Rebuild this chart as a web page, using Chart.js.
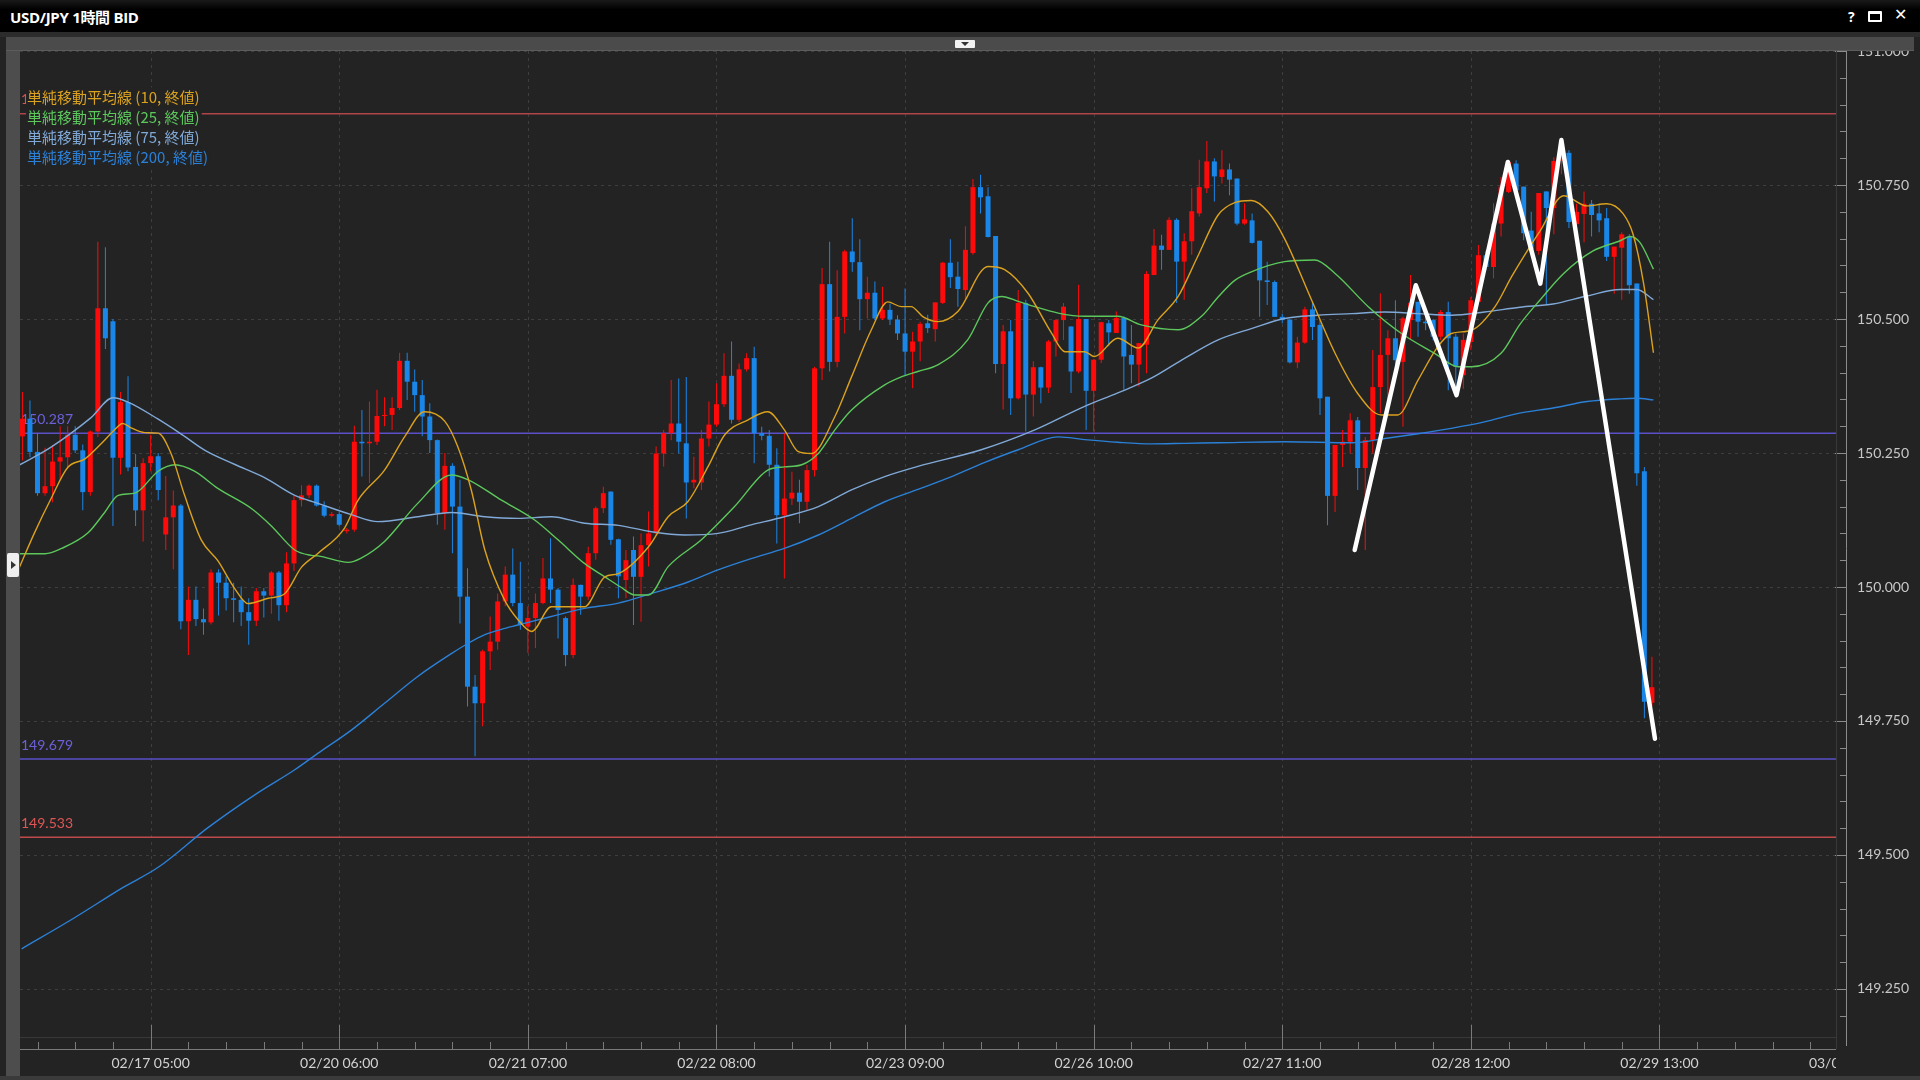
<!DOCTYPE html>
<html><head><meta charset="utf-8">
<script src="https://cdn.jsdelivr.net/npm/chart.js@4.4.1/dist/chart.umd.min.js"></script>
<style>
body{margin:0;background:#1b1b1b;}
#wrap{position:relative;width:1920px;height:1080px;overflow:hidden;background:#232323;}
#c{position:absolute;left:0;top:0;}
#title{position:absolute;left:0;top:0;width:1920px;height:32px;background:linear-gradient(#1a1a1a,#000 30%,#000);}
#title .t{position:absolute;left:10px;top:6px;color:#fff;font:bold 15px "Open Sans","Noto Sans CJK JP",sans-serif;letter-spacing:-0.3px;}
#title .q{position:absolute;left:1848px;top:7px;color:#fff;font:bold 14px "Open Sans",sans-serif;}
#title .mx{position:absolute;left:1868px;top:11px;width:10px;height:6px;border:2px solid #fff;border-top-width:3px;border-radius:1px;}
#title .x{position:absolute;left:1894px;top:5px;color:#fff;font:bold 16px "DejaVu Sans",sans-serif;}
#strip{position:absolute;left:0;top:32px;width:1920px;height:5px;background:#2c2c2c;}
#tool{position:absolute;left:6px;top:37px;width:1908px;height:13px;background:#4b4b4b;border-bottom:1px solid #5c5c5c;}
#drop{position:absolute;left:949px;top:3px;width:20px;height:8px;background:#f2f2f2;border-radius:1px;}
#drop:after{content:"";position:absolute;left:6px;top:2px;border-left:4px solid transparent;border-right:4px solid transparent;border-top:4px solid #333;}
#lbar{position:absolute;left:6px;top:51px;width:14px;height:1025px;background:#4d4d4d;}
#arrow{position:absolute;left:7px;top:553px;width:12px;height:24px;background:#f0f0f0;border-radius:2px;}
#arrow:after{content:"";position:absolute;left:4px;top:8px;border-top:4px solid transparent;border-bottom:4px solid transparent;border-left:5px solid #333;}
#bframe{position:absolute;left:0;top:1076px;width:1920px;height:4px;background:#3a3a3a;}
</style></head>
<body><div id="wrap">
<canvas id="c" width="1920" height="1080"></canvas>
<div id="title"><span class="t">USD/JPY 1時間 BID</span><span class="q">?</span><span class="mx"></span><span class="x">✕</span></div>
<div id="strip"></div>
<div id="tool"><div id="drop"></div></div>
<div id="lbar"></div><div id="arrow"></div>
<div id="bframe"></div>
</div>
<script>
// ---- hourly candles (index 0 = 02/16 12:00) ----
const open = [
150.281,150.314,150.252,150.175,150.188,150.234,150.242,150.284,150.255,150.177,
150.290,150.520,150.496,150.241,150.345,150.224,150.143,150.231,150.244,150.098,
150.130,150.152,149.936,149.976,149.940,149.934,150.027,150.008,149.979,149.976,
149.953,149.937,149.992,149.984,150.027,149.966,150.044,150.162,150.171,150.189,
150.152,150.133,150.136,150.104,150.107,150.271,150.268,150.271,150.319,150.321,
150.334,150.422,150.383,150.358,150.318,150.274,150.138,150.226,150.150,149.982,
149.814,149.783,149.880,149.898,149.973,150.023,149.970,149.926,149.942,149.970,
150.016,149.995,149.942,149.873,150.004,149.982,150.063,150.147,150.178,150.089,
150.013,150.069,150.019,150.078,150.100,150.249,150.287,150.305,150.268,150.195,
150.195,150.277,150.303,150.341,150.394,150.312,150.406,150.427,150.287,150.282,
150.228,150.134,150.165,150.176,150.159,150.218,150.408,150.565,150.420,150.504,
150.626,150.606,150.537,150.549,150.501,150.517,150.499,150.473,150.439,150.458,
150.492,150.481,150.530,150.605,150.579,150.554,150.623,150.746,150.729,150.655,
150.416,150.477,150.352,150.530,150.359,150.410,150.372,150.458,150.498,150.486,
150.402,150.500,150.366,150.424,150.492,150.474,150.502,150.433,150.415,150.452,
150.582,150.637,150.629,150.685,150.607,150.645,150.697,150.744,150.794,150.765,
150.779,150.762,150.678,150.684,150.646,150.572,150.569,150.504,150.499,150.419,
150.456,150.518,150.489,150.355,150.170,150.265,150.271,150.311,150.222,150.274,
150.373,150.433,150.464,150.420,150.498,150.532,150.495,150.498,150.467,150.513,
150.467,150.395,150.457,150.532,150.619,150.597,150.678,150.737,150.790,150.747,
150.665,150.627,150.738,150.707,150.795,150.810,150.677,150.696,150.715,150.697,
150.688,150.616,150.633,150.654,150.566,150.216,149.784];
const high = [
150.364,150.348,150.287,150.260,150.265,150.300,150.300,150.300,150.266,150.292,
150.644,150.634,150.500,150.364,150.393,150.248,150.240,150.284,150.250,150.207,
150.180,150.155,150.001,150.001,149.960,150.033,150.033,150.020,150.008,150.001,
149.979,149.998,149.998,150.030,150.030,150.065,150.170,150.190,150.191,150.191,
150.160,150.140,150.140,150.110,150.301,150.330,150.346,150.368,150.354,150.354,
150.437,150.437,150.406,150.386,150.343,150.275,150.250,150.231,150.200,150.035,
149.836,149.883,149.945,149.988,150.038,150.072,150.047,149.964,149.988,150.054,
150.091,149.998,149.945,150.016,150.004,150.075,150.150,150.187,150.178,150.090,
150.069,150.094,150.100,150.141,150.262,150.293,150.386,150.389,150.392,150.243,
150.293,150.346,150.380,150.436,150.458,150.417,150.436,150.448,150.299,150.293,
150.259,150.287,150.215,150.200,150.228,150.411,150.595,150.644,150.591,150.629,
150.688,150.649,150.579,150.570,150.560,150.529,150.507,150.557,150.476,150.495,
150.508,150.531,150.607,150.649,150.607,150.673,150.761,150.769,150.746,150.655,
150.489,150.498,150.554,150.536,150.421,150.411,150.461,150.500,150.530,150.486,
150.564,150.500,150.425,150.495,150.498,150.514,150.505,150.489,150.455,150.589,
150.668,150.657,150.690,150.688,150.660,150.744,150.797,150.832,150.800,150.815,
150.790,150.762,150.716,150.697,150.646,150.607,150.572,150.510,150.499,150.467,
150.523,150.532,150.498,150.355,150.265,150.293,150.324,150.317,150.280,150.442,
150.548,150.479,150.535,150.504,150.582,150.532,150.504,150.500,150.517,150.532,
150.473,150.473,150.541,150.638,150.628,150.716,150.765,150.796,150.796,150.747,
150.700,150.735,150.738,150.802,150.830,150.815,150.715,150.738,150.722,150.715,
150.707,150.635,150.662,150.658,150.566,150.224,149.870];
const low = [
150.236,150.242,150.170,150.170,150.158,150.200,150.220,150.250,150.143,150.170,
150.280,150.444,150.114,150.210,150.216,150.114,150.085,150.216,150.162,150.069,
150.033,149.921,149.873,149.927,149.911,149.930,149.947,149.956,149.934,149.927,
149.892,149.927,149.943,149.950,149.937,149.953,150.030,150.150,150.166,150.150,
150.130,150.130,150.113,150.100,150.103,150.206,150.194,150.265,150.300,150.293,
150.330,150.349,150.327,150.281,150.250,150.116,150.107,150.063,149.932,149.777,
149.684,149.740,149.845,149.883,149.964,149.964,149.920,149.877,149.886,149.968,
149.970,149.904,149.852,149.867,149.948,149.976,150.051,150.138,150.079,149.979,
149.979,149.929,149.935,150.038,150.095,150.225,150.274,150.249,150.128,150.184,
150.181,150.262,150.299,150.336,150.305,150.308,150.402,150.231,150.274,150.206,
150.081,150.016,150.153,150.119,150.144,150.206,150.386,150.402,150.410,150.473,
150.588,150.479,150.501,150.498,150.498,150.489,150.461,150.395,150.371,150.421,
150.474,150.458,150.528,150.558,150.523,150.536,150.620,150.697,150.652,150.399,
150.331,150.321,150.350,150.290,150.318,150.343,150.362,150.430,150.461,150.362,
150.399,150.293,150.290,150.418,150.449,150.474,150.368,150.380,150.374,150.399,
150.582,150.592,150.629,150.530,150.536,150.620,150.691,150.735,150.719,150.753,
150.731,150.675,150.676,150.641,150.504,150.526,150.504,150.492,150.417,150.408,
150.454,150.461,150.321,150.115,150.140,150.224,150.249,150.181,150.069,150.249,
150.324,150.349,150.398,150.299,150.461,150.467,150.479,150.460,150.461,150.367,
150.373,150.370,150.442,150.529,150.591,150.576,150.654,150.735,150.731,150.647,
150.620,150.620,150.528,150.658,150.770,150.670,150.650,150.643,150.654,150.662,
150.608,150.547,150.536,150.547,150.189,149.755,149.778];
const close = [
150.314,150.252,150.175,150.188,150.234,150.242,150.284,150.255,150.177,150.290,
150.520,150.464,150.241,150.345,150.223,150.143,150.231,150.244,150.181,150.130,
150.152,149.936,149.976,149.940,149.934,150.027,150.008,149.979,149.976,149.953,
149.937,149.992,149.984,150.027,149.966,150.044,150.162,150.171,150.189,150.152,
150.133,150.136,150.116,150.107,150.271,150.268,150.271,150.319,150.321,150.334,
150.422,150.383,150.358,150.318,150.274,150.138,150.226,150.150,149.982,149.814,
149.783,149.880,149.898,149.973,150.023,149.970,149.929,149.942,149.970,150.016,
149.995,149.957,149.873,150.004,149.982,150.063,150.147,150.175,150.088,150.020,
150.050,150.019,150.078,150.100,150.249,150.287,150.305,150.271,150.195,150.200,
150.277,150.303,150.341,150.394,150.312,150.406,150.427,150.287,150.282,150.228,
150.134,150.165,150.176,150.159,150.218,150.408,150.565,150.420,150.504,150.626,
150.606,150.537,150.549,150.501,150.517,150.499,150.473,150.439,150.458,150.491,
150.483,150.531,150.605,150.578,150.556,150.629,150.746,150.727,150.653,150.416,
150.477,150.352,150.530,150.359,150.410,150.372,150.458,150.498,150.523,150.402,
150.500,150.366,150.424,150.494,150.475,150.502,150.430,150.415,150.455,150.584,
150.637,150.629,150.685,150.607,150.645,150.701,150.746,150.794,150.766,150.779,
150.760,150.678,150.686,150.642,150.572,150.569,150.504,150.498,150.419,150.456,
150.518,150.485,150.352,150.170,150.265,150.271,150.311,150.222,150.274,150.373,
150.433,150.464,150.423,150.501,150.530,150.495,150.492,150.467,150.513,150.464,
150.411,150.461,150.535,150.619,150.597,150.678,150.747,150.793,150.740,150.660,
150.630,150.735,150.707,150.795,150.810,150.681,150.700,150.715,150.694,150.684,
150.616,150.635,150.658,150.563,150.212,149.786,149.813];

// ---- moving averages (candle index, value) ----
const sma10X = [-0.6,1.6,3.8,6.0,8.3,10.5,12.2,13.3,14.4,16.2,18.0,19.7,21.5,23.7,25.9,28.1,29.9,32.6,34.8,37.0,39.2,42.7,44.5,48.0,50.7,53.3,56.0,57.7,59.5,61.3,63.9,65.7,67.5,70.1,72.8,74.5,77.2,79.0,83.0,85.6,88.2,90.9,93.1,96.2,98.8,101.0,102.8,104.6,107.7,109.9,112.5,114.7,116.5,117.8,119.4,121.4,124.0,128.0,130.2,133.3,136.4,138.2,140.8,142.1,145.2,147.9,150.5,153.2,155.8,158.5,160.7,162.9,165.1,167.3,170.9,174.0,177.0,180.1,182.3,185.0,187.6,189.4,192.1,195.2,197.4,199.6,201.2,204.3,207.4,210.0,212.2,213.5,214.9,216.2];
const sma10Y = [150.030,150.101,150.165,150.223,150.239,150.268,150.293,150.305,150.297,150.288,150.287,150.249,150.171,150.088,150.049,149.998,149.969,149.979,149.988,150.037,150.063,150.110,150.162,150.218,150.281,150.327,150.309,150.262,150.181,150.069,149.976,149.939,149.917,149.963,149.963,149.963,150.019,150.025,150.075,150.131,150.159,150.225,150.284,150.312,150.327,150.293,150.253,150.249,150.318,150.392,150.479,150.532,150.523,150.523,150.504,150.495,150.514,150.598,150.592,150.548,150.474,150.439,150.439,150.430,150.464,150.446,150.498,150.542,150.617,150.694,150.717,150.721,150.700,150.650,150.535,150.436,150.361,150.321,150.321,150.386,150.448,150.473,150.479,150.523,150.579,150.630,150.665,150.730,150.711,150.715,150.696,150.658,150.566,150.437];
const sma25X = [-0.6,3.0,5.2,8.7,10.9,12.7,14.9,18.0,20.2,22.8,25.9,30.4,33.0,36.1,38.3,39.2,43.2,44.9,48.0,52.4,56.9,59.1,63.5,67.9,71.0,74.5,77.2,79.3,81.2,83.0,85.6,90.0,94.4,98.8,101.0,103.3,105.5,107.7,109.9,114.3,116.5,118.7,121.4,125.3,128.0,129.8,132.0,134.2,137.3,140.8,145.2,148.3,153.2,156.3,158.5,160.7,162.9,167.3,171.3,174.0,178.4,182.8,187.2,190.3,192.1,196.0,198.5,201.2,204.3,208.2,211.8,213.1,214.4,216.2];
const sma25Y = [150.062,150.062,150.072,150.101,150.139,150.171,150.175,150.216,150.228,150.216,150.184,150.146,150.114,150.069,150.059,150.058,150.046,150.054,150.085,150.156,150.209,150.200,150.162,150.125,150.088,150.044,150.019,150.000,149.985,149.985,150.038,150.088,150.150,150.218,150.224,150.228,150.249,150.293,150.330,150.377,150.392,150.402,150.415,150.461,150.530,150.542,150.533,150.523,150.511,150.505,150.505,150.489,150.480,150.505,150.541,150.572,150.588,150.607,150.610,150.585,150.523,150.473,150.436,150.411,150.411,150.436,150.490,150.536,150.585,150.627,150.646,150.654,150.643,150.593];
const sma75X = [-0.6,3.8,9.1,12.0,14.0,18.0,21.5,24.2,28.1,32.1,36.1,39.2,43.6,47.1,52.4,56.9,61.3,65.7,70.1,74.5,79.0,83.4,87.8,92.2,96.6,101.0,105.5,109.9,114.3,118.7,127.1,134.2,140.8,145.2,149.7,154.1,158.5,162.9,167.3,171.7,176.2,180.6,185.0,189.4,193.8,198.5,202.9,207.4,211.8,214.0,216.2];
const sma75Y = [150.226,150.261,150.316,150.353,150.345,150.313,150.281,150.255,150.229,150.204,150.171,150.156,150.135,150.122,150.131,150.139,150.131,150.128,150.131,150.119,150.115,150.103,150.097,150.100,150.116,150.131,150.150,150.181,150.206,150.225,150.256,150.293,150.337,150.362,150.390,150.427,150.461,150.482,150.501,150.507,150.510,150.513,150.510,150.507,150.513,150.522,150.528,150.543,150.555,150.555,150.536];
const sma200X = [-0.1,6.8,13.3,18.1,24.6,31.1,36.1,39.2,43.6,48.0,52.4,56.9,59.1,61.3,63.5,65.7,70.1,74.5,79.0,83.4,87.8,92.2,96.6,101.0,105.5,109.9,114.3,118.7,123.0,127.5,132.0,137.3,140.8,145.2,149.7,154.1,158.5,167.3,176.2,180.6,185.0,189.4,193.8,198.3,202.9,207.4,211.8,214.0,216.2];
const sma200Y = [149.325,149.382,149.439,149.478,149.551,149.615,149.659,149.690,149.733,149.783,149.833,149.876,149.895,149.911,149.921,149.929,149.945,149.960,149.970,149.988,150.007,150.032,150.053,150.072,150.097,150.128,150.159,150.182,150.205,150.232,150.256,150.280,150.275,150.270,150.267,150.268,150.269,150.271,150.269,150.277,150.286,150.296,150.308,150.324,150.334,150.346,150.351,150.352,150.349];

// ---- hand-drawn white pattern line ----
const markX = [176.6,184.7,190.1,196.9,201.2,204.0,216.4];
const markY = [150.069,150.563,150.358,150.793,150.566,150.834,149.717];

// ---- horizontal price lines ----
const levelVals = [150.883,150.287,149.679,149.533];
const levelText = ['150.883','150.287','149.679','149.533'];
const levelColors = ['#b04448','#5a50c8','#5a50c8','#c04a4a'];
const levelLabelColors = ['#e05050','#6c60d8','#6c60d8','#e05555'];

// ---- axis ticks ----
const xTickIdx = [17,42,67,92,117,142,167,192,217,242];
const xTickLabels = ['02/17 05:00','02/20 06:00','02/21 07:00','02/22 08:00','02/23 09:00','02/26 10:00','02/27 11:00','02/28 12:00','02/29 13:00','03/01 14:00'];

const legendNames = ['単純移動平均線 (10, 終値)','単純移動平均線 (25, 終値)','単純移動平均線 (75, 終値)','単純移動平均線 (200, 終値)'];
const maColors = ['#dba21e','#5cc85c','#80a9d8','#2b80d8'];

const UP = '#ff0a0a', DOWN = '#1a86e8', BG = '#232323';

function build(){
  const idx = open.map((_, i) => i);
  const col = idx.map(i => close[i] >= open[i] ? UP : DOWN);
  const pts = (xs, ys) => xs.map((x, k) => ({x, y: ys[k]}));
  const lineDs = (label, xs, ys, color, order) => ({type:'line', label, data: pts(xs, ys), borderColor: color, borderWidth: 1.4, pointRadius: 0, cubicInterpolationMode: 'monotone', order});

  const bgPlugin = {id:'bg', beforeDraw(chart){const c=chart.ctx; c.save(); c.fillStyle=BG; c.fillRect(0,0,chart.width,chart.height); c.restore();}};

  const L = (c, x1, y1, x2, y2) => {c.beginPath(); c.moveTo(x1, y1); c.lineTo(x2, y2); c.stroke();};

  const drawPlugin = {
    id:'draw',
    beforeDatasetsDraw(chart){
      const c = chart.ctx, a = chart.chartArea, x = chart.scales.x, y = chart.scales.y;
      c.save();
      c.strokeStyle = '#3e3e3e'; c.lineWidth = 1; c.setLineDash([3,4]);
      y.ticks.forEach(t => {const py = Math.round(y.getPixelForValue(t.value)) + 0.5; L(c, a.left, py, a.right, py);});
      xTickIdx.forEach(i => {const px = Math.round(x.getPixelForValue(i)) + 0.5; if (px < a.right) L(c, px, a.top, px, a.bottom);});
      c.setLineDash([]);
      c.lineWidth = 1.5;
      c.font = '14px Lato'; c.textBaseline = 'middle'; c.textAlign = 'left';
      levelVals.forEach((v, k) => {
        const py = y.getPixelForValue(v);
        c.strokeStyle = levelColors[k]; L(c, a.left, py, a.right, py);
        c.fillStyle = levelLabelColors[k]; c.fillText(levelText[k], a.left + 1, py - 14);
      });
      c.restore();
    },
    afterDraw(chart){
      const c = chart.ctx, a = chart.chartArea, x = chart.scales.x, y = chart.scales.y;
      c.save();
      const ax = 1846.5;
      c.strokeStyle = '#8c8c8c'; c.lineWidth = 1;
      L(c, ax, a.top, ax, 1046);
      for (let k = Math.ceil(y.min * 20); k <= Math.floor(y.max * 20); k++) {
        const py = Math.round(y.getPixelForValue(k / 20)) + 0.5;
        L(c, k % 5 === 0 ? 1835 : 1840, py, ax, py);
      }
      c.strokeStyle = '#383838';
      L(c, a.right + 0.5, a.top, a.right + 0.5, 1049);
      L(c, a.left, a.bottom + 0.5, a.right, a.bottom + 0.5);
      c.strokeStyle = '#7a7a7a';
      L(c, a.left, 1049.5, a.right, 1049.5);
      for (let i = 2; x.getPixelForValue(i) < a.right; i += 5) {
        const px = Math.round(x.getPixelForValue(i)) + 0.5;
        const major = xTickIdx.includes(i);
        L(c, px, major ? 1025 : 1042, px, 1049);
      }
      c.beginPath(); c.rect(0, 1040, a.right, 40); c.clip();
      c.fillStyle = '#d2d2d2'; c.font = '14px Lato'; c.textAlign = 'center'; c.textBaseline = 'middle';
      xTickIdx.forEach((i, k) => c.fillText(xTickLabels[k], x.getPixelForValue(i), 1063));
      c.restore();
      c.save();
      c.font = '15px "Noto Sans CJK JP"'; c.textBaseline = 'middle'; c.textAlign = 'left';
      legendNames.forEach((t, k) => {
        const yy = 97 + k * 20;
        const w = c.measureText(t).width;
        c.fillStyle = BG; c.fillRect(26, yy - 9.5, w + 3, 19);
        c.fillStyle = maColors[k]; c.fillText(t, 27, yy);
      });
      c.restore();
    }
  };

  new Chart(document.getElementById('c'), {
    type: 'bar',
    data: {datasets: [
      {type:'line', label:'pattern', data: pts(markX, markY), borderColor:'#ffffff', borderWidth:4.5, pointRadius:0, tension:0, borderJoinStyle:'round', borderCapStyle:'round', order:0},
      lineDs('SMA10', sma10X, sma10Y, maColors[0], 1),
      lineDs('SMA25', sma25X, sma25Y, maColors[1], 2),
      lineDs('SMA75', sma75X, sma75Y, maColors[2], 3),
      lineDs('SMA200', sma200X, sma200Y, maColors[3], 4),
      {type:'bar', label:'body', data: idx.map(i => ({x:i, y:[open[i], close[i]]})), backgroundColor: col, barThickness:5, minBarLength:1, grouped:false, borderWidth:0, inflateAmount:0, order:5},
      {type:'bar', label:'wick', data: idx.map(i => ({x:i, y:[low[i], high[i]]})), backgroundColor: col, barThickness:1, grouped:false, borderWidth:0, inflateAmount:0, order:6}
    ]},
    options: {
      responsive:false, animation:false, devicePixelRatio:1, events:[],
      layout:{padding:{left:20, top:51, right:0, bottom:0}},
      plugins:{legend:{display:false}, tooltip:{enabled:false}},
      scales:{
        x:{type:'linear', min:-0.32, max:240.4, offset:false, grid:{display:false, offset:false}, border:{display:false}, ticks:{display:false}, afterFit(s){s.height = 43;}},
        y:{type:'linear', position:'right', min:149.1604, max:151.0, grid:{display:false, drawTicks:false}, border:{display:false},
           ticks:{stepSize:0.25, includeBounds:false, padding:21, color:'#c8c8c8', font:{family:'Lato', size:14}, callback: v => v.toFixed(3)},
           afterFit(s){s.width = 84;}}
      }
    },
    plugins:[bgPlugin, drawPlugin]
  });
}
Promise.all([document.fonts.load('14px Lato'), document.fonts.load('15px "Noto Sans CJK JP"')]).then(build, build);
</script>
</body></html>
